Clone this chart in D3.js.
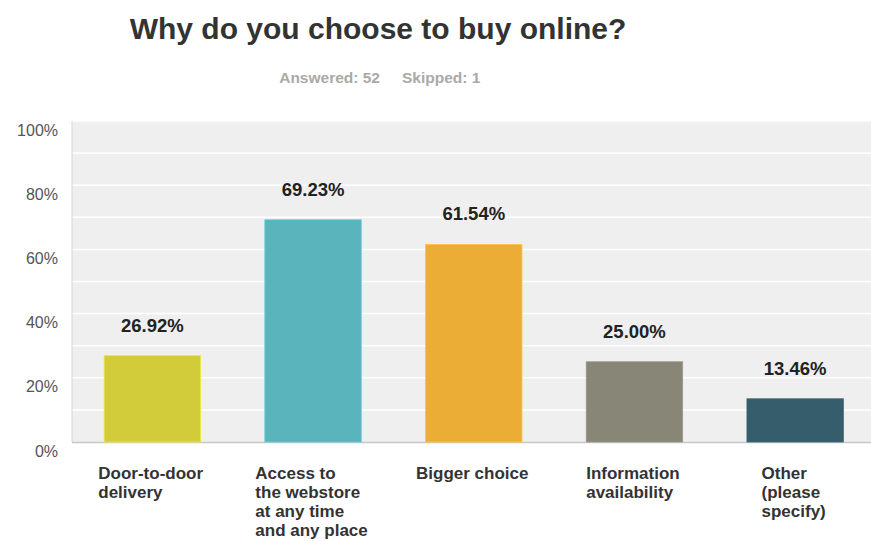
<!DOCTYPE html>
<html>
<head>
<meta charset="utf-8">
<script src="https://cdn.jsdelivr.net/npm/d3@7"></script>
<style>
  html, body { margin: 0; padding: 0; background: #fff; }
  svg { display: block; font-family: "Liberation Sans", Arial, Helvetica, sans-serif; }
</style>
</head>
<body>
<svg id="chart" width="871" height="541"></svg>
<script>
// Survey responses: share of respondents choosing each reason
const categories = [
  ["Door-to-door", "delivery"],
  ["Access to", "the webstore", "at any time", "and any place"],
  ["Bigger choice"],
  ["Information", "availability"],
  ["Other", "(please", "specify)"]
];
const values = [26.92, 69.23, 61.54, 25.00, 13.46];
const colors = ["#d3cc3a", "#5ab4bb", "#ecad37", "#888677", "#365d6b"];
const yTicks = [0, 20, 40, 60, 80, 100];
const gridTicks = [10, 20, 30, 40, 50, 60, 70, 80, 90, 100];
const titleText = "Why do you choose to buy online?";
const answeredText = "Answered: 52";
const skippedText = "Skipped: 1";

const svg = d3.select("#chart");
const plot = { left: 72, right: 875.5, top: 121, bottom: 442 };

const x = d3.scaleBand()
  .domain(d3.range(values.length))
  .range([plot.left, plot.right])
  .paddingInner(0.4)
  .paddingOuter(0.2);

const y = d3.scaleLinear().domain([0, 100]).range([plot.bottom, plot.top]);

// Title and response counts
svg.append("text")
  .attr("x", 378).attr("y", 39)
  .attr("text-anchor", "middle")
  .attr("font-size", 30).attr("font-weight", "bold")
  .attr("fill", "#333")
  .text(titleText);

svg.append("text")
  .attr("x", 380).attr("y", 83)
  .attr("text-anchor", "end")
  .attr("font-size", 15.5).attr("font-weight", "bold")
  .attr("fill", "#a9a9a9")
  .text(answeredText);
svg.append("text")
  .attr("x", 402).attr("y", 83)
  .attr("text-anchor", "start")
  .attr("font-size", 15.5).attr("font-weight", "bold")
  .attr("fill", "#a9a9a9")
  .text(skippedText);

// Plot background and gridlines
svg.append("rect")
  .attr("x", plot.left).attr("y", plot.top)
  .attr("width", plot.right - plot.left).attr("height", plot.bottom - plot.top)
  .attr("fill", "#efefef");

svg.append("g")
  .selectAll("line")
  .data(gridTicks)
  .join("line")
  .attr("x1", plot.left).attr("x2", plot.right)
  .attr("y1", d => y(d)).attr("y2", d => y(d))
  .attr("stroke", "#fff").attr("stroke-width", 1.5);

// Axis lines
svg.append("line")
  .attr("x1", plot.left).attr("x2", plot.left)
  .attr("y1", plot.top).attr("y2", plot.bottom)
  .attr("stroke", "#d6d6d6").attr("stroke-width", 1);
svg.append("line")
  .attr("x1", plot.left).attr("x2", plot.right)
  .attr("y1", plot.bottom + 0.5).attr("y2", plot.bottom + 0.5)
  .attr("stroke", "#c8c8c8").attr("stroke-width", 1.5);

// Y tick labels sit just below their gridline
svg.append("g")
  .selectAll("text")
  .data(yTicks)
  .join("text")
  .attr("x", 58).attr("y", d => y(d) + 14.5)
  .attr("text-anchor", "end")
  .attr("font-size", 16)
  .attr("fill", "#555")
  .text(d => d + "%");

// Bars
svg.append("g")
  .selectAll("rect")
  .data(values)
  .join("rect")
  .attr("x", (d, i) => x(i))
  .attr("y", d => y(d))
  .attr("width", x.bandwidth())
  .attr("height", d => y(0) - y(d))
  .attr("fill", (d, i) => colors[i])
  .attr("stroke", (d, i) => d3.color(colors[i]).brighter(0.35))
  .attr("stroke-width", 0.8);

// Value labels above each bar
svg.append("g")
  .selectAll("text")
  .data(values)
  .join("text")
  .attr("x", (d, i) => x(i) + x.bandwidth() / 2)
  .attr("y", d => y(d) - 24)
  .attr("text-anchor", "middle")
  .attr("font-size", 18.5).attr("font-weight", "bold")
  .attr("fill", "#222")
  .text(d => d.toFixed(2) + "%");

// Category labels: left-aligned lines, block centred under its bar
const catGroups = svg.append("g")
  .selectAll("g")
  .data(categories)
  .join("g");

catGroups.each(function(lines, i) {
  const g = d3.select(this);
  const t = g.append("text")
    .attr("font-size", 17).attr("font-weight", "bold")
    .attr("fill", "#333");
  t.selectAll("tspan")
    .data(lines)
    .join("tspan")
    .attr("x", 0)
    .attr("y", (l, j) => j * 19)
    .text(l => l);
  const w = t.node().getBBox().width;
  const cx = x(i) + x.bandwidth() / 2 - 1.5;
  g.attr("transform", `translate(${cx - w / 2},479)`);
});
</script>
</body>
</html>
